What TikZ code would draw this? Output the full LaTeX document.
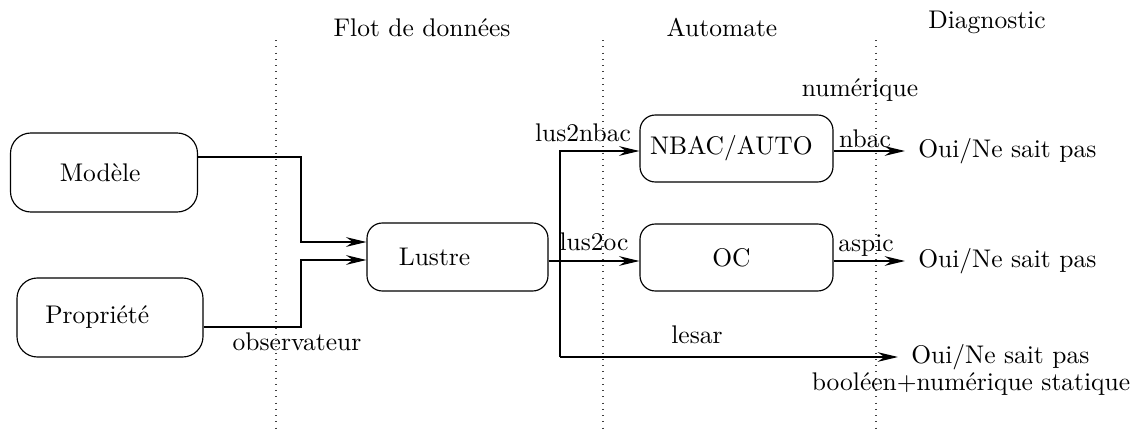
\documentclass[tikz,border=0pt]{standalone}
\usetikzlibrary{arrows.meta}
\begin{document}
\begin{tikzpicture}[x=0.392pt,y=-0.392pt,
  box/.style={draw,rounded corners=6pt,line width=0.45pt,inner sep=0pt},
  bigbox/.style={box,rounded corners=8pt},
  arr/.style={-{Stealth[length=8pt,width=3.8pt,inset=2.7pt]},line width=0.45pt},
  sep/.style={dash pattern=on 0.45pt off 2pt,line width=0.45pt,black!75},
  res/.style={anchor=west,inner xsep=5pt,inner ysep=2pt},
  lbl/.style={inner sep=0pt}]
\useasboundingbox (0,0) rectangle (1137,430);
% separators
\coordinate (s1t) at (276,40); \coordinate (s1b) at (276,430);
\coordinate (s2t) at (603,40); \coordinate (s2b) at (603,430);
\coordinate (s3t) at (876,40); \coordinate (s3b) at (876,430);
\draw[sep] (s1t) -- (s1b);
\draw[sep] (s2t) -- (s2b);
\draw[sep] (s3t) -- (s3b);
% headers
\node[lbl] (h1) at (422,28) {Flot de données};
\node[lbl] (h2) at (722,28) {Automate};
\node[lbl] (h3) at (987,22) {Diagnostic};
% boxes
\node[bigbox,minimum width={187*0.392pt},minimum height={79*0.392pt},
  label={[lbl,xshift=-1.5pt]center:Modèle}] (Mod) at (104,172.5) {};
\node[bigbox,minimum width={186*0.392pt},minimum height={79*0.392pt},
  label={[lbl,xshift=-5pt]center:Propriété}] (Prop) at (110,317.5) {};
\node[box,minimum width={181*0.392pt},minimum height={68*0.392pt},
  label={[lbl,xshift=-9pt]center:Lustre}] (Lus) at (457.5,257) {};
\node[box,minimum width={193*0.392pt},minimum height={67*0.392pt},
  label={[lbl,xshift=-2pt]center:NBAC/AUTO}] (NB) at (736.5,148.5) {};
\node[box,minimum width={193*0.392pt},minimum height={67*0.392pt},
  label={[lbl,xshift=-2pt]center:OC}] (OC) at (736.5,257.5) {};
% results
\node[res] (R1) at (905,151) {Oui/Ne sait pas};
\node[res] (R2) at (905,261) {Oui/Ne sait pas};
\node[res] (R3) at (898,357) {Oui/Ne sait pas};
% connectors
\coordinate (m1) at (301,157); \coordinate (m2) at (301,242);
\coordinate (p1) at (301,327); \coordinate (p2) at (301,260);
\draw[arr] (Mod.east |- m1) -- (m1) -- (m2) -- (Lus.west |- m2);
\draw[arr] (Prop.east |- p1) -- (p1) -- (p2) -- (Lus.west |- p2);
\coordinate (j) at (560,261); \coordinate (jt) at (560,151); \coordinate (jb) at (560,357);
\draw[arr] (Lus.east |- j) -- (OC.west |- j);
\draw[arr] (jb) -- (jt) -- (NB.west |- jt);
\draw[arr] (jb) -- (R3.west);
\draw[arr] (NB.east |- jt) -- (R1.west);
\draw[arr] (OC.east |- j) -- (R2.west);
% labels
\node[lbl] (lo) at (297,342) {observateur};
\node[lbl] (l1) at (583,133) {lus2nbac};
\node[lbl] (l2) at (594,242) {lus2oc};
\node[lbl] (l3) at (865,139) {nbac};
\node[lbl] (l4) at (866,246) {aspic};
\node[lbl] (l5) at (860,90) {numérique};
\node[lbl] (l6) at (697,335) {lesar};
\node[lbl] (l7) at (971,384) {booléen+numérique statique};
\end{tikzpicture}
\end{document}
